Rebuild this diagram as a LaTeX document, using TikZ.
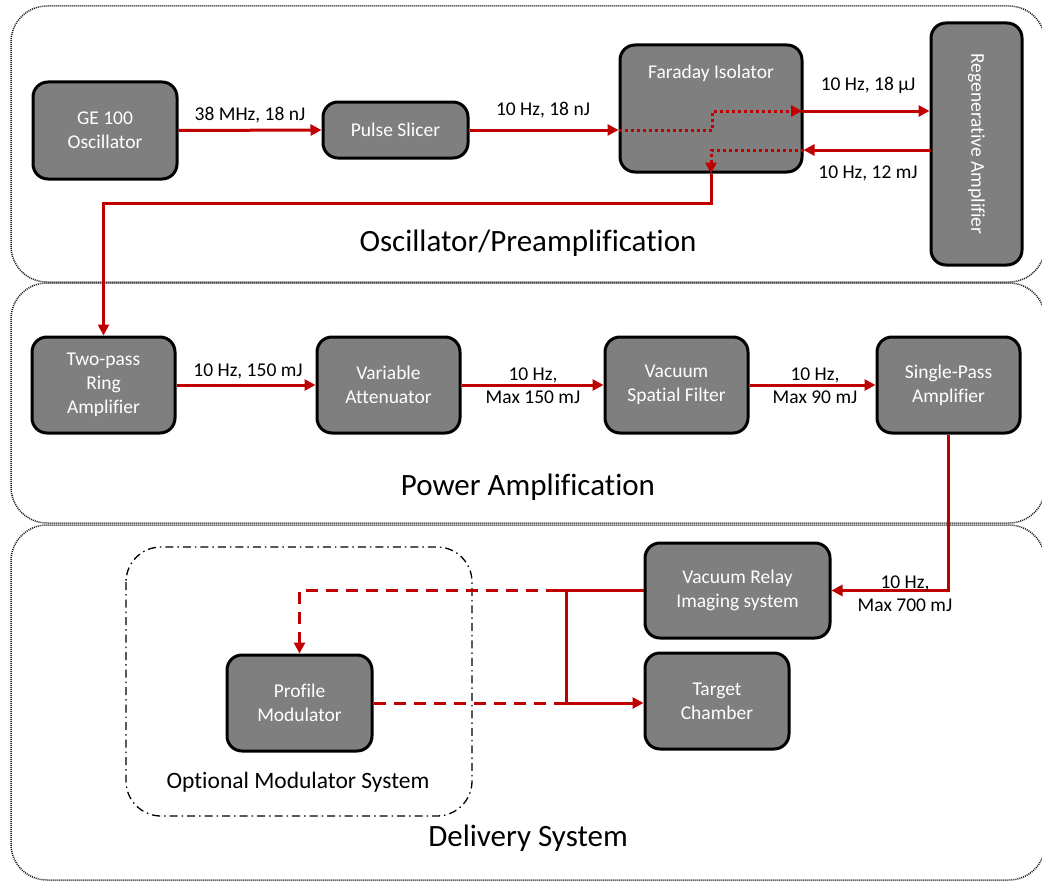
\documentclass[tikz,border=0pt]{standalone}
\usepackage{fontspec}
\setmainfont{Carlito}[Ligatures=CommonOff]
\usetikzlibrary{arrows.meta}
\definecolor{beamred}{HTML}{C00000}
\definecolor{boxgray}{HTML}{7F7F7F}

\begin{document}
\begin{tikzpicture}[x=1pt,y=-1pt,
  stage/.style={draw=black, line width=3pt, rounded corners=15pt, fill=boxgray,
    text=white, align=center, font=\fontsize{19.5}{24}\selectfont, inner sep=0pt},
  stagetext/.style={text=white, align=center, font=\fontsize{19.5}{24}\selectfont, inner sep=0pt},
  group/.style={draw=black!90, line width=1.5pt, dash pattern=on 1pt off 1pt, rounded corners=36pt},
  optgroup/.style={draw=black, line width=1.3pt, dash pattern=on 8pt off 4pt on 1.5pt off 4pt, rounded corners=35pt},
  grouptitle/.style={font=\fontsize{31}{36}\selectfont, inner sep=0pt},
  beam/.style={draw=beamred, line width=3pt},
  tip/.style={-{Triangle[length=11pt,width=11pt]}},
  dotbeam/.style={beam, dash pattern=on 3pt off 3pt},
  dashbeam/.style={beam, dash pattern=on 12pt off 8pt},
  beamnote/.style={font=\fontsize{19.5}{23}\selectfont, align=center, inner sep=0pt}
]
\useasboundingbox (0,0) rectangle (1042,883);

% ---- stage groups ----
\draw[group] (11,6) rectangle (1045,282);
\draw[group] (11,283) rectangle (1045,523);
\draw[group] (11,525) rectangle (1045,880);
\node[grouptitle] (t1) at (528,243) {Oscillator/Preamplification};
\node[grouptitle] (t2) at (528,487) {Power Amplification};
\node[grouptitle] (t3) at (528,838) {Delivery System};

% optional modulator enclosure
\draw[optgroup] (126,547) rectangle (472,816);
\node[font=\fontsize{23.5}{28}\selectfont, inner sep=0pt] (t4) at (298,782) {Optional Modulator System};

% ---- components ----
\node[stage, minimum width=144pt, minimum height=97pt] (ge) at (105,130.5) {GE 100\\Oscillator};
\node[stage, minimum width=145pt, minimum height=56pt] (ps) at (395.5,130) {Pulse Slicer};
\node[stage, minimum width=182pt, minimum height=127pt] (fi) at (711,108.5) {};
\node[stagetext] (fitext) at (711,73) {Faraday Isolator};
\node[stage, minimum width=91pt, minimum height=242pt] (ra) at (976.5,144) {};
\node[stagetext, rotate=-90] (ratext) at (ra.center) {Regenerative Amplifier};

\node[stage, minimum width=143pt, minimum height=96pt] (tp) at (103.5,385) {Two-pass\\Ring\\Amplifier};
\node[stage, minimum width=143pt, minimum height=96pt] (va) at (388.5,385) {Variable\\Attenuator};
\node[stage, minimum width=143pt, minimum height=96pt] (vs) at (676.5,385) {Vacuum\\Spatial Filter};
\node[stage, minimum width=143pt, minimum height=96pt] (sp) at (948.5,385) {Single-Pass\\Amplifier};

\node[stage, minimum width=185pt, minimum height=95pt] (vr) at (737.5,590.5) {Vacuum Relay\\Imaging system};
\node[stage, minimum width=144pt, minimum height=96pt] (tc) at (717,701) {Target\\Chamber};
\node[stage, minimum width=145pt, minimum height=96pt] (pm) at (299.5,703) {Profile\\Modulator};

% ---- routing points ----
\coordinate (fo) at (802,111);
\coordinate (ri) at (931,150);
\coordinate (jt) at (558,590.5);
\coordinate (jb) at (558,703);
\coordinate (vt) at (566,590.5);
\coordinate (vb) at (566,703);

% ---- preamplification beam ----
\draw[beam, tip] (ge.east) -- (ps.west);
\node[beamnote] (n1) at (250,115) {38 MHz, 18 nJ};
\draw[beam, tip] (ps.east) -- (ps.east -| fi.west);
\node[beamnote] (n2) at (543,110) {10 Hz, 18 nJ};
\draw[dotbeam, tip] (ps.east -| fi.west) -- (712,130) -- (712,111) -- (fo);
\draw[beam, tip] (fo) -- (ra.west |- fo);
\node[beamnote] (n3) at (868,85) {10 Hz, 18 μJ};
\draw[beam, tip] (ri) -- (fi.east |- ri);
\node[beamnote] (n4) at (868,173) {10 Hz, 12 mJ};
\draw[dotbeam, tip] (fi.east |- ri) -| (fi.south);
\draw[beam, tip] (fi.south) -- (711,203) -| (tp.north);

% ---- power amplification beam ----
\draw[beam, tip] (tp.east) -- (va.west);
\node[beamnote] (n5) at (248,371) {10 Hz, 150 mJ};
\draw[beam, tip] (va.east) -- (vs.west);
\node[beamnote] (n6) at (533,386) {10 Hz,\\Max 150 mJ};
\draw[beam, tip] (vs.east) -- (sp.west);
\node[beamnote] (n7) at (815,386) {10 Hz,\\Max 90 mJ};
\draw[beam, tip] (sp.south) |- (vr.east);
\node[beamnote] (n8) at (905,594) {10 Hz,\\Max 700 mJ};

% ---- delivery beam ----
\draw[beam] (vr.west) -- (jt);
\draw[beam] (vt) -- (vb);
\draw[beam, tip] (jb) -- (jb -| tc.west);
\draw[dashbeam, tip] (jt) -| (pm.north);
\draw[dashbeam] (pm.east) -- (jb);
\end{tikzpicture}
\end{document}
